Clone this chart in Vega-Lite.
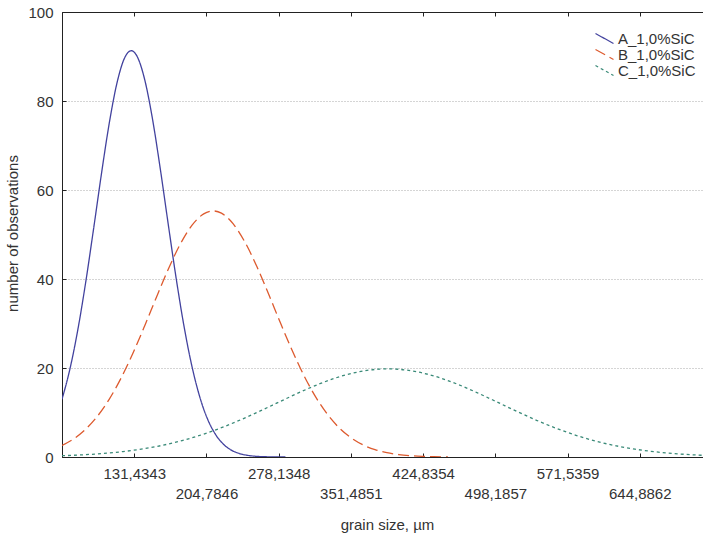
{
  "$schema": "https://vega.github.io/schema/vega-lite/v6.json",
  "width": 650,
  "height": 445,
  "autosize": {"type": "none"},
  "padding": {"left": 62, "top": 12, "right": 0, "bottom": 78},
  "background": "white",
  "config": {
    "font": "Liberation Sans",
    "view": {"stroke": "#222", "strokeWidth": 1}
  },
  "data": {
    "values": [
      {"series": "A_1,0%SiC", "size": 58.08, "count": 12.97},
      {"series": "A_1,0%SiC", "size": 66, "count": 19.65},
      {"series": "A_1,0%SiC", "size": 74, "count": 28.41},
      {"series": "A_1,0%SiC", "size": 82, "count": 39.05},
      {"series": "A_1,0%SiC", "size": 90, "count": 51.03},
      {"series": "A_1,0%SiC", "size": 98, "count": 63.41},
      {"series": "A_1,0%SiC", "size": 106, "count": 74.9},
      {"series": "A_1,0%SiC", "size": 114, "count": 84.12},
      {"series": "A_1,0%SiC", "size": 122, "count": 89.84},
      {"series": "A_1,0%SiC", "size": 128.4, "count": 91.3},
      {"series": "A_1,0%SiC", "size": 134, "count": 90.18},
      {"series": "A_1,0%SiC", "size": 142, "count": 84.87},
      {"series": "A_1,0%SiC", "size": 150, "count": 75.95},
      {"series": "A_1,0%SiC", "size": 158, "count": 64.61},
      {"series": "A_1,0%SiC", "size": 166, "count": 52.27},
      {"series": "A_1,0%SiC", "size": 174, "count": 40.2},
      {"series": "A_1,0%SiC", "size": 182, "count": 29.39},
      {"series": "A_1,0%SiC", "size": 190, "count": 20.43},
      {"series": "A_1,0%SiC", "size": 198, "count": 13.5},
      {"series": "A_1,0%SiC", "size": 206, "count": 8.48},
      {"series": "A_1,0%SiC", "size": 214, "count": 5.07},
      {"series": "A_1,0%SiC", "size": 222, "count": 2.88},
      {"series": "A_1,0%SiC", "size": 230, "count": 1.55},
      {"series": "A_1,0%SiC", "size": 238, "count": 0.8},
      {"series": "A_1,0%SiC", "size": 246, "count": 0.39},
      {"series": "A_1,0%SiC", "size": 254, "count": 0.18},
      {"series": "A_1,0%SiC", "size": 262, "count": 0.08},
      {"series": "A_1,0%SiC", "size": 270, "count": 0.03},
      {"series": "A_1,0%SiC", "size": 285, "count": 0},
      {"series": "B_1,0%SiC", "size": 58.08, "count": 2.58},
      {"series": "B_1,0%SiC", "size": 70, "count": 4.08},
      {"series": "B_1,0%SiC", "size": 82, "count": 6.22},
      {"series": "B_1,0%SiC", "size": 94, "count": 9.15},
      {"series": "B_1,0%SiC", "size": 106, "count": 12.97},
      {"series": "B_1,0%SiC", "size": 118, "count": 17.7},
      {"series": "B_1,0%SiC", "size": 130, "count": 23.26},
      {"series": "B_1,0%SiC", "size": 142, "count": 29.45},
      {"series": "B_1,0%SiC", "size": 154, "count": 35.92},
      {"series": "B_1,0%SiC", "size": 166, "count": 42.19},
      {"series": "B_1,0%SiC", "size": 178, "count": 47.75},
      {"series": "B_1,0%SiC", "size": 190, "count": 52.04},
      {"series": "B_1,0%SiC", "size": 202, "count": 54.64},
      {"series": "B_1,0%SiC", "size": 211.6, "count": 55.3},
      {"series": "B_1,0%SiC", "size": 220, "count": 54.8},
      {"series": "B_1,0%SiC", "size": 232, "count": 52.38},
      {"series": "B_1,0%SiC", "size": 244, "count": 48.24},
      {"series": "B_1,0%SiC", "size": 256, "count": 42.79},
      {"series": "B_1,0%SiC", "size": 268, "count": 36.56},
      {"series": "B_1,0%SiC", "size": 280, "count": 30.09},
      {"series": "B_1,0%SiC", "size": 292, "count": 23.86},
      {"series": "B_1,0%SiC", "size": 304, "count": 18.22},
      {"series": "B_1,0%SiC", "size": 316, "count": 13.4},
      {"series": "B_1,0%SiC", "size": 328, "count": 9.49},
      {"series": "B_1,0%SiC", "size": 340, "count": 6.47},
      {"series": "B_1,0%SiC", "size": 352, "count": 4.26},
      {"series": "B_1,0%SiC", "size": 364, "count": 2.7},
      {"series": "B_1,0%SiC", "size": 376, "count": 1.64},
      {"series": "B_1,0%SiC", "size": 388, "count": 0.97},
      {"series": "B_1,0%SiC", "size": 400, "count": 0.55},
      {"series": "B_1,0%SiC", "size": 412, "count": 0.3},
      {"series": "B_1,0%SiC", "size": 424, "count": 0.16},
      {"series": "B_1,0%SiC", "size": 436, "count": 0.08},
      {"series": "B_1,0%SiC", "size": 450, "count": 0.03},
      {"series": "C_1,0%SiC", "size": 58.08, "count": 0.29},
      {"series": "C_1,0%SiC", "size": 80, "count": 0.5},
      {"series": "C_1,0%SiC", "size": 100, "count": 0.79},
      {"series": "C_1,0%SiC", "size": 120, "count": 1.22},
      {"series": "C_1,0%SiC", "size": 140, "count": 1.82},
      {"series": "C_1,0%SiC", "size": 160, "count": 2.62},
      {"series": "C_1,0%SiC", "size": 180, "count": 3.68},
      {"series": "C_1,0%SiC", "size": 200, "count": 5.0},
      {"series": "C_1,0%SiC", "size": 220, "count": 6.58},
      {"series": "C_1,0%SiC", "size": 240, "count": 8.41},
      {"series": "C_1,0%SiC", "size": 260, "count": 10.42},
      {"series": "C_1,0%SiC", "size": 280, "count": 12.51},
      {"series": "C_1,0%SiC", "size": 300, "count": 14.58},
      {"series": "C_1,0%SiC", "size": 320, "count": 16.47},
      {"series": "C_1,0%SiC", "size": 340, "count": 18.04},
      {"series": "C_1,0%SiC", "size": 360, "count": 19.16},
      {"series": "C_1,0%SiC", "size": 380, "count": 19.74},
      {"series": "C_1,0%SiC", "size": 389.2, "count": 19.8},
      {"series": "C_1,0%SiC", "size": 400, "count": 19.71},
      {"series": "C_1,0%SiC", "size": 420, "count": 19.09},
      {"series": "C_1,0%SiC", "size": 440, "count": 17.93},
      {"series": "C_1,0%SiC", "size": 460, "count": 16.33},
      {"series": "C_1,0%SiC", "size": 480, "count": 14.42},
      {"series": "C_1,0%SiC", "size": 500, "count": 12.35},
      {"series": "C_1,0%SiC", "size": 520, "count": 10.25},
      {"series": "C_1,0%SiC", "size": 540, "count": 8.25},
      {"series": "C_1,0%SiC", "size": 560, "count": 6.45},
      {"series": "C_1,0%SiC", "size": 580, "count": 4.88},
      {"series": "C_1,0%SiC", "size": 600, "count": 3.58},
      {"series": "C_1,0%SiC", "size": 620, "count": 2.55},
      {"series": "C_1,0%SiC", "size": 640, "count": 1.76},
      {"series": "C_1,0%SiC", "size": 660, "count": 1.18},
      {"series": "C_1,0%SiC", "size": 680, "count": 0.77},
      {"series": "C_1,0%SiC", "size": 700, "count": 0.48},
      {"series": "C_1,0%SiC", "size": 718.24, "count": 0.28}
    ]
  },
  "layer": [
    {
      "mark": {"type": "line", "interpolate": "monotone", "strokeWidth": 1.3, "clip": true},
      "encoding": {
        "x": {
          "field": "size",
          "type": "quantitative",
          "scale": {"domain": [58.084, 718.24], "nice": false, "zero": false},
          "axis": {
            "orient": "bottom",
            "values": [131.4343, 204.7846, 278.1348, 351.4851, 424.8354, 498.1857, 571.5359, 644.8862],
            "labelExpr": "replace(format(datum.value, '.4f'), '.', ',')",
            "labelOverlap": false,
            "labelFlush": false,
            "labelFont": "Liberation Sans",
            "labelFontSize": 15,
            "labelColor": "#333",
            "labelBaseline": "alphabetic",
            "labelPadding": {"condition": {"test": "datum.value > 200 && datum.value < 210 || datum.value > 350 && datum.value < 355 || datum.value > 495 && datum.value < 500 || datum.value > 640 && datum.value < 650", "value": 45}, "value": 25},
            "tickSize": -4,
            "tickColor": "#222",
            "domainColor": "#222",
            "grid": false,
            "title": "grain size, µm",
            "titleFont": "Liberation Sans",
            "titleFontSize": 15,
            "titleFontWeight": "normal",
            "titleColor": "#333",
            "titleBaseline": "alphabetic",
            "titleY": 72
          }
        },
        "y": {
          "field": "count",
          "type": "quantitative",
          "scale": {"domain": [0, 100], "nice": false},
          "axis": {
            "values": [0, 20, 40, 60, 80, 100],
            "labelFont": "Liberation Sans",
            "labelFontSize": 15,
            "labelColor": "#333",
            "labelPadding": 13,
            "tickSize": -4,
            "tickColor": "#222",
            "domainColor": "#222",
            "grid": true,
            "gridColor": "#aaa",
            "gridDash": [1, 2],
            "gridWidth": 1,
            "title": "number of observations",
            "titleFont": "Liberation Sans",
            "titleFontSize": 15,
            "titleFontWeight": "normal",
            "titleColor": "#333",
            "titleAngle": -90,
            "titleBaseline": "middle",
            "titleX": -50,
            "titleY": 221
          }
        },
        "color": {
          "field": "series",
          "type": "nominal",
          "scale": {"domain": ["A_1,0%SiC", "B_1,0%SiC", "C_1,0%SiC"], "range": ["#42429e", "#dd5a2e", "#3a8a78"]},
          "legend": {
            "title": null,
            "orient": "none",
            "legendX": 535,
            "legendY": 19,
            "symbolType": "M-1.8,-1L1.8,1",
            "symbolSize": 100,
            "symbolStrokeWidth": 1.2,
            "labelFont": "Liberation Sans",
            "labelFontSize": 15,
            "labelColor": "#333",
            "labelOffset": 6,
            "rowPadding": 0,
            "padding": 0
          }
        },
        "strokeDash": {
          "field": "series",
          "type": "nominal",
          "scale": {"domain": ["A_1,0%SiC", "B_1,0%SiC", "C_1,0%SiC"], "range": [[1, 0], [11, 5], [3, 3]]},
          "legend": {
            "title": null,
            "orient": "none",
            "legendX": 535,
            "legendY": 19,
            "symbolType": "M-1.8,-1L1.8,1",
            "symbolSize": 100,
            "symbolStrokeWidth": 1.2,
            "labelFont": "Liberation Sans",
            "labelFontSize": 15,
            "labelColor": "#333",
            "labelOffset": 6,
            "rowPadding": 0,
            "padding": 0
          }
        }
      }
    },
    {
      "mark": {"type": "line", "opacity": 0},
      "encoding": {
        "x": {
          "field": "size",
          "type": "quantitative",
          "axis": {
            "orient": "top",
            "values": [131.4343, 204.7846, 278.1348, 351.4851, 424.8354, 498.1857, 571.5359, 644.8862],
            "labels": false,
            "title": null,
            "tickSize": -4,
            "tickColor": "#222",
            "domainColor": "#222",
            "grid": false
          }
        },
        "y": {"field": "count", "type": "quantitative"},
        "detail": {"field": "series"}
      }
    }
  ],
  "resolve": {"axis": {"x": "independent"}}
}
